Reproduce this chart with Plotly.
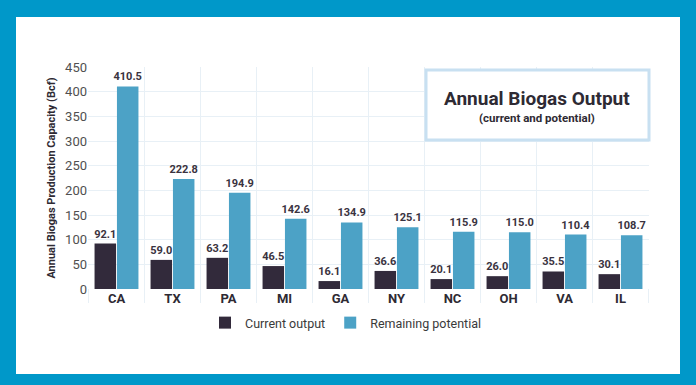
import plotly.graph_objects as go

states = ["CA", "TX", "PA", "MI", "GA", "NY", "NC", "OH", "VA", "IL"]
current_output = [92.1, 59.0, 63.2, 46.5, 16.1, 36.6, 20.1, 26.0, 35.5, 30.1]
remaining_potential = [410.5, 222.8, 194.9, 142.6, 134.9, 125.1, 115.9, 115.0, 110.4, 108.7]
y_ticks = [0, 50, 100, 150, 200, 250, 300, 350, 400, 450]

W, H = 696, 385
L, R, T, B = 88, 47, 67, 96
pw = W - L - R
ph = H - T - B

def px(x):
    return (x - L) / pw

def py(y):
    return (H - B - y) / ph

FONT = "Roboto"
DARK = "#322a3b"
BLUE = "#4ca2c6"
BORDER = "#0098c9"
GRID = "#e8f0f6"

fig = go.Figure()
fig.add_trace(go.Bar(
    x=states, y=current_output, name="Current output",
    marker=dict(color=DARK, line=dict(width=0)),
    text=[f"{v:.1f}" for v in current_output], textposition="outside",
    textfont=dict(family=FONT, size=11, color="#3a3340", weight="bold"),
    constraintext="none", cliponaxis=False,
))
fig.add_trace(go.Bar(
    x=states, y=remaining_potential, name="Remaining potential",
    marker=dict(color=BLUE, line=dict(width=0)),
    text=[f"{v:.1f}" for v in remaining_potential], textposition="outside",
    textfont=dict(family=FONT, size=11, color="#3a3340", weight="bold"),
    constraintext="none", cliponaxis=False,
))

shapes = [
    dict(type="rect", xref="paper", yref="paper", x0=px(16), x1=px(680), y0=py(374), y1=py(17),
         fillcolor="white", line=dict(width=0), layer="below"),
]
for k in range(len(states) + 1):
    shapes.append(dict(type="line", xref="x", yref="paper", x0=k - 0.5, x1=k - 0.5,
                       y0=py(303), y1=0, line=dict(color=GRID, width=1), layer="below"))
shapes.append(dict(type="rect", xref="paper", yref="paper", x0=px(426), x1=px(649), y0=py(140), y1=py(70),
                   fillcolor="white", line=dict(color="#c8e0f1", width=3), layer="above"))

annotations = [
    dict(text="<b>Annual Biogas Output</b>", xref="paper", yref="paper", x=px(537), y=py(98),
         showarrow=False, font=dict(family=FONT, size=19, color="#2e2a33"), xanchor="center", yanchor="middle"),
    dict(text="<b>(current and potential)</b>", xref="paper", yref="paper", x=px(537), y=py(118),
         showarrow=False, font=dict(family=FONT, size=11.5, color="#2e2a33"), xanchor="center", yanchor="middle"),
]

fig.update_layout(
    width=W, height=H,
    margin=dict(l=L, r=R, t=T, b=B),
    paper_bgcolor=BORDER,
    plot_bgcolor="rgba(0,0,0,0)",
    barmode="group", bargap=0.2, bargroupgap=0.04,
    shapes=shapes, annotations=annotations,
    showlegend=True,
    legend=dict(orientation="h", x=px(346), xanchor="center", y=py(323), yanchor="middle",
                font=dict(family=FONT, size=12.5, color="#3a3a3a"), bgcolor="rgba(0,0,0,0)",
                itemwidth=30, traceorder="normal"),
    font=dict(family=FONT),
)
fig.update_xaxes(
    type="category", tickson="boundaries", showgrid=True, gridcolor=GRID, gridwidth=1,
    ticks="", showline=False, zeroline=False,
    tickfont=dict(family=FONT, size=13, color="#2e2a33", weight="bold"),
)
fig.update_yaxes(
    range=[0, 450], tickvals=y_ticks, showgrid=True, gridcolor=GRID, gridwidth=1,
    zeroline=False, showline=False, ticks="",
    tickfont=dict(family=FONT, size=13, color="#505050"),
    title=dict(text="<b>Annual Biogas Production Capacity (Bcf)</b>",
               font=dict(family=FONT, size=11, color="#2e2a33"), standoff=7),
)

fig.write_html("out.html", config={"displayModeBar": False},
               post_script="document.body.style.margin='0';")
